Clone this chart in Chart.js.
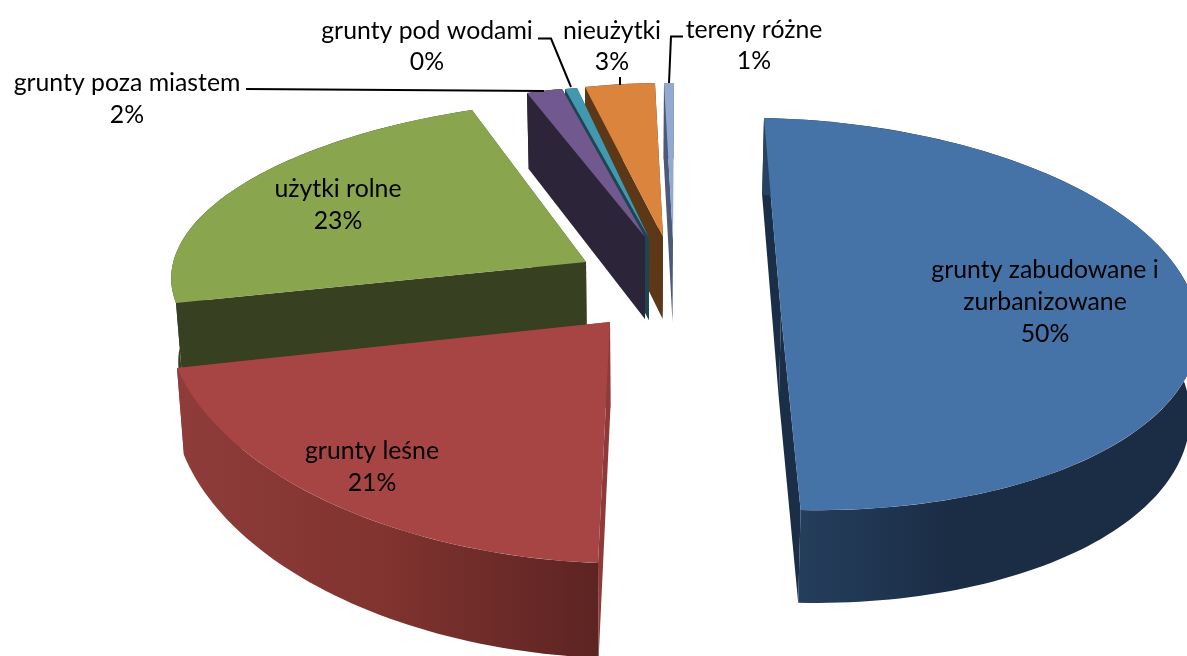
<!DOCTYPE html>
<html>
<head>
<meta charset="utf-8">
<style>
    html, body { margin: 0; padding: 0; background: #fff; overflow: hidden; }
    canvas { display: block; }
</style>
<script src="https://cdn.jsdelivr.net/npm/chart.js@4/dist/chart.umd.js"></script>
</head>
<body>
<canvas id="landUseChart" width="1187" height="656"></canvas>
<script>
const categories = ["grunty zabudowane i zurbanizowane", "grunty leśne", "użytki rolne", "grunty poza miastem", "grunty pod wodami", "nieużytki", "tereny różne"]
const shares = [49.9, 20.8, 23, 2, 0.4, 3, 0.9]

const topColors = ["#4572a7", "#a64543", "#89a54e", "#71588f", "#4198af", "#db843d", "#93a9cf"]
const cutColors = ["#1b2e47", "#8e3a38", "#374020", "#2c2438", "#1d4652", "#5c3718", "#4a5a78"]
const wallStops = [
    [[0, "#274262"], [0.43, "#1b2d45"], [1, "#1b2d45"]],
    [[0, "#8f3c3a"], [0.5, "#80332f"], [1, "#5c2422"]],
    [[0, "#374020"], [1, "#374020"]],
    [[0, "#2c2438"], [1, "#2c2438"]],
    [[0, "#1d4652"], [1, "#1d4652"]],
    [[0, "#5c3718"], [1, "#5c3718"]],
    [[0, "#4a5a78"], [1, "#4a5a78"]]
]

// where each exploded slice ends up on the page: tip, rim at slice start, rim at fraction t of the sweep
const frames = [
    { tip: [781, 314], a: [764, 118], b: [1198, 322], t: 0.5 },
    { tip: [610, 322], a: [598, 563], b: [177, 368], t: 1 },
    { tip: [586, 262], a: [176, 303], b: [472, 110], t: 1 },
    { tip: [645, 237], a: [527, 93], b: [562, 89], t: 1 },
    { tip: [649, 238], a: [565, 89], b: [577, 88], t: 1 },
    { tip: [663, 237], a: [585, 87], b: [655, 83], t: 1 },
    { tip: [673, 240], a: [664, 83], b: [674, 83], t: 1 }
]

// text lines per label, centre x and centre y of each line
const labelLayout = [
    { x: 1045, y: [270, 302, 334], lines: ["grunty zabudowane i", "zurbanizowane"] },
    { x: 372, y: [451, 483], lines: ["grunty leśne"] },
    { x: 338, y: [189, 221], lines: ["użytki rolne"] },
    { x: 127, y: [83, 115], lines: ["grunty poza miastem"] },
    { x: 427, y: [31, 62], lines: ["grunty pod wodami"] },
    { x: 612, y: [31, 62], lines: ["nieużytki"] },
    { x: 754, y: [30, 61], lines: ["tereny różne"] }
]
const leaders = [
    [[246, 89], [544, 91]],
    [[538, 38.5], [551, 38.5], [571, 87]],
    [[620, 77], [620, 85]],
    [[683, 36.5], [671, 36.5], [669, 83]]
]

// side walls drop down the page and lean towards the vanishing point
const drop = ([x, y]) => [x + (640 - x) * 0.015, y + 76 + (y - 90) * 0.04]

const sliceMatrix = (el, frame) => {
    const sweep = el.endAngle - el.startAngle
    const a1 = el.startAngle
    const a2 = el.startAngle + sweep * frame.t
    const [tx, ty] = frame.tip
    const p = [frame.a[0] - tx, frame.a[1] - ty]
    const q = [frame.b[0] - tx, frame.b[1] - ty]
    const c1 = Math.cos(a1), s1 = Math.sin(a1), c2 = Math.cos(a2), s2 = Math.sin(a2)
    const det = c1 * s2 - s1 * c2
    return {
        a: (p[0] * s2 - q[0] * s1) / det,
        b: (p[1] * s2 - q[1] * s1) / det,
        c: (q[0] * c1 - p[0] * c2) / det,
        d: (q[1] * c1 - p[1] * c2) / det,
        tx,
        ty
    }
}

const onRim = (m, angle) => [
    m.tx + m.a * Math.cos(angle) + m.c * Math.sin(angle),
    m.ty + m.b * Math.cos(angle) + m.d * Math.sin(angle)
]

const fillPoly = (ctx, pts, fill) => {
    ctx.beginPath()
    pts.forEach(([x, y], i) => i ? ctx.lineTo(x, y) : ctx.moveTo(x, y))
    ctx.closePath()
    ctx.fillStyle = fill
    ctx.fill()
}

const drawSides = (ctx, el, i) => {
    const m = sliceMatrix(el, frames[i])
    const rim = []
    const steps = Math.max(4, Math.round((el.endAngle - el.startAngle) * 40))
    for (let k = 0; k <= steps; k++) rim.push(onRim(m, el.startAngle + (el.endAngle - el.startAngle) * k / steps))

    const tip = [m.tx, m.ty]
    const first = rim[0], last = rim[rim.length - 1]
    fillPoly(ctx, [tip, first, drop(first), drop(tip)], cutColors[i])
    fillPoly(ctx, [tip, last, drop(last), drop(tip)], cutColors[i])

    const xs = rim.map(p => p[0])
    const grad = ctx.createLinearGradient(Math.min(...xs), 0, Math.max(...xs), 0)
    wallStops[i].forEach(([o, c]) => grad.addColorStop(o, c))
    fillPoly(ctx, rim.concat(rim.map(drop).reverse()), grad)
}

const drawTop = (ctx, el, i) => {
    const m = sliceMatrix(el, frames[i])
    const r = el.outerRadius
    ctx.save()
    ctx.transform(m.a / r, m.b / r, m.c / r, m.d / r, m.tx, m.ty)
    ctx.translate(-el.x, -el.y)
    el.draw(ctx)
    ctx.restore()
}

const piePerspective = {
    id: "piePerspective",
    beforeDatasetDraw(chart, args) {
        const { ctx } = chart
        const arcs = chart.getDatasetMeta(args.index).data
        // the four thin slices share one block: all their sides go under all their tops
        ;[6, 5, 4, 3].forEach(i => drawSides(ctx, arcs[i], i))
        ;[3, 4, 5, 6].forEach(i => drawTop(ctx, arcs[i], i))
        ;[2, 1, 0].forEach(i => {
            drawSides(ctx, arcs[i], i)
            drawTop(ctx, arcs[i], i)
        })
        return false
    },
    afterDraw(chart) {
        const { ctx } = chart
        ctx.save()
        ctx.strokeStyle = "#000"
        ctx.lineWidth = 2
        leaders.forEach(pts => {
            ctx.beginPath()
            pts.forEach(([x, y], i) => i ? ctx.lineTo(x, y) : ctx.moveTo(x, y))
            ctx.stroke()
        })
        ctx.fillStyle = "#000"
        ctx.font = "24.8px Lato"
        ctx.textAlign = "center"
        ctx.textBaseline = "middle"
        labelLayout.forEach((label, i) => {
            const texts = label.lines.concat(Math.round(shares[i]) + "%")
            texts.forEach((t, k) => ctx.fillText(t, label.x, label.y[k]))
        })
        ctx.restore()
    }
}

new Chart(document.getElementById("landUseChart").getContext("2d"), {
    type: "pie",
    data: {
        labels: categories,
        datasets: [{
            data: shares,
            backgroundColor: topColors,
            borderWidth: 0,
            clip: false
        }]
    },
    options: {
        responsive: false,
        animation: false,
        plugins: { legend: { display: false }, tooltip: { enabled: false } }
    },
    plugins: [piePerspective]
})
</script>
</body>
</html>
